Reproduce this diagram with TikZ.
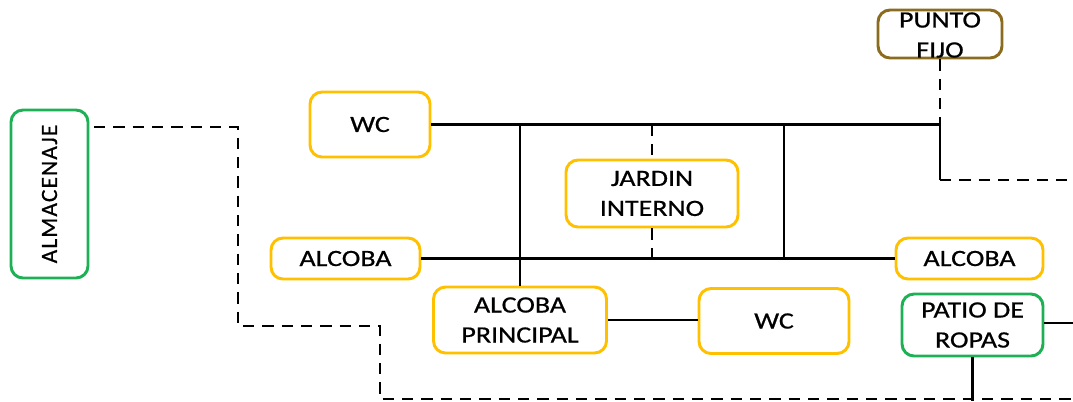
\documentclass[tikz,border=0pt]{standalone}
\usepackage{fontspec}
\setmainfont{Carlito}[FakeStretch=1.2, FakeBold=0.7]
\newfontfamily\sidefont{Carlito}[LetterSpace=5, FakeBold=0.7]
\definecolor{zonaY}{HTML}{FFC000}
\definecolor{zonaG}{HTML}{1DB054}
\definecolor{zonaB}{HTML}{8B6B1E}
\tikzset{
  espacio/.style={draw=zonaY, line width=2.2pt, rounded corners=9pt, inner sep=0pt,
    align=center, font=\fontsize{17.5}{22.5}\selectfont},
  servicio/.style={espacio, draw=zonaG},
  fijo/.style={espacio, draw=zonaB},
  wall/.style={line width=2.1pt},
  link/.style={line width=2.1pt, dashed, dash pattern=on 8.5pt off 6pt}
}
\begin{document}
\begin{tikzpicture}[x=0.75pt, y=-0.75pt]
\useasboundingbox (0,0) rectangle (1073,401);
% recintos
\node[servicio, rotate=90, minimum width=126pt, minimum height=57.75pt,
  font=\sidefont\fontsize{17.5}{20}\selectfont] (alm) at (49.5,194) {ALMACENAJE};
\node[espacio, minimum width=90pt, minimum height=48.75pt] (wc1) at (370,124.5) {WC};
\node[fijo, minimum width=93pt, minimum height=36pt] (pf) at (940,34) {};
\node[align=center, inner sep=0pt, font=\fontsize{17.5}{22.5}\selectfont] (pftext) at (940,35) {PUNTO\\FIJO};
\node[espacio, minimum width=129pt, minimum height=50.25pt] (jardin) at (652,193.5) {JARDIN\\INTERNO};
\node[espacio, minimum width=111.75pt, minimum height=30.75pt] (alc1) at (345.5,258.5) {ALCOBA};
\node[espacio, minimum width=110.25pt, minimum height=30.75pt] (alc2) at (969.5,258.5) {ALCOBA};
\node[espacio, minimum width=129.75pt, minimum height=49.5pt] (ap) at (520,320) {ALCOBA\\PRINCIPAL};
\node[espacio, minimum width=112.5pt, minimum height=48.75pt] (wc2) at (774,321) {WC};
\node[servicio, minimum width=105.75pt, minimum height=46.5pt] (patio) at (972.5,325) {PATIO DE\\ROPAS};
% puntos de union
\coordinate (j1) at (520,124.5);
\coordinate (j2) at (652,124.5);
\coordinate (j3) at (784,124.5);
\coordinate (j4) at (940,124.5);
\coordinate (j5) at (940,180);
\coordinate (e1) at (1073,180);
\coordinate (m2) at (652,258.5);
\coordinate (m3) at (784,258.5);
\coordinate (e3) at (1073,323);
\coordinate (e4) at (972.5,401);
\coordinate (d0) at (94,127);
\coordinate (d1) at (238,127);
\coordinate (d2) at (238,326);
\coordinate (d3) at (380,326);
\coordinate (d4) at (380,399);
\coordinate (e2) at (1073,399);
% circulaciones
\draw[wall] (wc1.east) -- (j4) -- (j5);
\draw[link] (j5) -- (e1);
\draw[link] (pf.south) -- (j4);
\draw[wall] (j1) -- (ap.north);
\draw[wall] (j3) -- (m3);
\draw[link] (j2) -- (jardin.north);
\draw[link] (jardin.south) -- (m2);
\draw[wall] (alc1.east) -- (alc2.west);
\draw[wall] (ap.east) -- (ap.east -| wc2.west);
\draw[wall] (patio.east |- e3) -- (e3);
\draw[wall] (patio.south) -- (e4);
\draw[link] (d0) -- (d1) -- (d2) -- (d3) -- (d4) -- (e2);
\end{tikzpicture}
\end{document}
